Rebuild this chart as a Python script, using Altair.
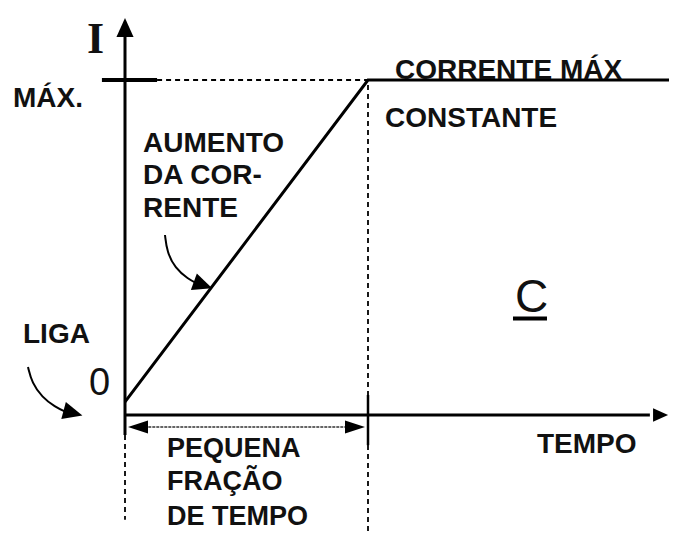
import altair as alt
import pandas as pd

# ---- data (time units: t1 = 10 ; current units: I_max = 10) ----
T1 = 10.0
IMAX = 10.0

# main current curve: starts near 0, ramps to max at t1, then constant
curve_t = [0.0, T1, 22.39]
curve_i = [0.39, IMAX, IMAX]

# axes (solid)
axis_x1 = [0.0, 0.0]
axis_x2 = [0.0, 21.6]
axis_y1 = [-0.6, 0.0]
axis_y2 = [11.45, 0.0]

# dashed guide lines: horizontal at max, vertical at t1, vertical at 0 below axis
dash_x1 = [1.32, T1, 0.0]
dash_x2 = [T1, T1, 0.0]
dash_y1 = [IMAX, 9.85, -0.6]
dash_y2 = [IMAX, -3.49, -3.13]

# short solid marks: max tick and bar at t1
tick_x1 = [-0.95, T1]
tick_x2 = [1.32, T1]
tick_y1 = [IMAX, 0.6]
tick_y2 = [IMAX, -0.9]
tick_w = [4, 2.5]

# double arrow (small fraction of time)
span_t = [0.3, 9.7]
span_i = -0.36

# curved pointer arrows
aum_t = [1.646, 1.728, 2.058, 2.593, 3.004]
aum_i = [5.373, 4.866, 4.388, 4.060, 3.910]
liga_t = [-3.992, -3.827, -3.416, -2.881, -2.428]
liga_i = [1.433, 0.955, 0.537, 0.239, 0.090]

# arrowheads
head_t = [0.0, 22.04, 3.21, -2.14]
head_i = [11.57, 0.0, 3.88, 0.06]
head_ang = [270, 0, 20, 15]
head_sz = [361, 225, 380, 380]

slim_t = [0.535, 9.465]
slim_i = [-0.36, -0.36]
slim_ang = [180, 0]

# labels
lab_text = ["MÁX.", "AUMENTO", "DA COR-", "RENTE", "CORRENTE MÁX", "CONSTANTE",
            "LIGA", "PEQUENA", "FRAÇÃO", "DE TEMPO", "TEMPO"]
lab_t = [-4.609, 0.741, 0.741, 0.741, 11.111, 10.700,
         -4.198, 1.728, 1.728, 1.728, 16.955]
lab_i = [9.194, 7.851, 6.896, 5.910, 10.03, 8.597,
         2.149, -1.254, -2.239, -3.284, -1.134]
lab_size = [28, 28, 28, 28, 28, 28, 28, 27, 27, 27, 28]

# big letters
big_text = ["C"]
big_t = [16.049]
big_i = [3.075]
under_t = [15.967, 17.366]
under_i = 2.881

zero_t = [-1.481]
zero_i = [0.597]
i_t = [-1.564]
i_i = [10.806]

# ---- scales ----
xs = alt.Scale(domain=[-4.815, 22.387], nice=False, zero=False)
ys = alt.Scale(domain=[-3.4925, 12.149], nice=False, zero=False)
BLACK = "#000000"


def X(f="t"):
    return alt.X(f + ":Q", scale=xs, axis=None)


def Y(f="i"):
    return alt.Y(f + ":Q", scale=ys, axis=None)


curve = alt.Chart(pd.DataFrame({"t": curve_t, "i": curve_i})).mark_line(
    color=BLACK, strokeWidth=3).encode(x=X(), y=Y(), order="t:Q")

axes = alt.Chart(pd.DataFrame({"t": axis_x1, "t2": axis_x2, "i": axis_y1, "i2": axis_y2})).mark_rule(
    color=BLACK, strokeWidth=3).encode(x=X(), x2="t2:Q", y=Y(), y2="i2:Q")

dashes = alt.Chart(pd.DataFrame({"t": dash_x1, "t2": dash_x2, "i": dash_y1, "i2": dash_y2})).mark_rule(
    color=BLACK, strokeWidth=1.8, strokeDash=[5, 4]).encode(x=X(), x2="t2:Q", y=Y(), y2="i2:Q")

ticks = alt.Chart(pd.DataFrame({"t": tick_x1, "t2": tick_x2, "i": tick_y1, "i2": tick_y2, "w": tick_w})).mark_rule(
    color=BLACK).encode(x=X(), x2="t2:Q", y=Y(), y2="i2:Q",
                        strokeWidth=alt.StrokeWidth("w:Q", scale=None))

span = alt.Chart(pd.DataFrame({"t": [span_t[0]], "t2": [span_t[1]], "i": [span_i]})).mark_rule(
    color="#333333", strokeWidth=1.6, strokeDash=[3, 1]).encode(x=X(), x2="t2:Q", y=Y())

under = alt.Chart(pd.DataFrame({"t": [under_t[0]], "t2": [under_t[1]], "i": [under_i]})).mark_rule(
    color=BLACK, strokeWidth=4).encode(x=X(), x2="t2:Q", y=Y())

curved_df = pd.DataFrame({
    "t": aum_t + liga_t,
    "i": aum_i + liga_i,
    "k": ["aum"] * len(aum_t) + ["liga"] * len(liga_t),
    "o": list(range(len(aum_t))) + list(range(len(liga_t))),
})
curved = alt.Chart(curved_df).mark_line(color=BLACK, strokeWidth=2, interpolate="basis").encode(
    x=X(), y=Y(), detail="k:N", order="o:Q")

heads = alt.Chart(pd.DataFrame({"t": head_t, "i": head_i, "a": head_ang, "s": head_sz})).mark_point(
    shape="M1,0L-1,-0.9L-1,0.9Z", filled=True, color=BLACK, opacity=1, strokeWidth=0).encode(
    x=X(), y=Y(), angle=alt.Angle("a:Q", scale=None), size=alt.Size("s:Q", scale=None))

slim = alt.Chart(pd.DataFrame({"t": slim_t, "i": slim_i, "a": slim_ang})).mark_point(
    shape="M1,0L-1,-0.65L-1,0.65Z", filled=True, color=BLACK, opacity=1, strokeWidth=0, size=400).encode(
    x=X(), y=Y(), angle=alt.Angle("a:Q", scale=None))

labels = alt.Chart(pd.DataFrame({"t": lab_t, "i": lab_i, "txt": lab_text, "fs": lab_size})).mark_text(
    align="left", baseline="alphabetic", font="Liberation Sans", fontWeight="bold", color="#111111").encode(
    x=X(), y=Y(), text="txt:N", size=alt.Size("fs:Q", scale=None))

big_c = alt.Chart(pd.DataFrame({"t": big_t, "i": big_i, "txt": big_text})).mark_text(
    align="left", baseline="alphabetic", font="Liberation Sans", fontSize=46, color="#111111").encode(
    x=X(), y=Y(), text="txt:N")

zero = alt.Chart(pd.DataFrame({"t": zero_t, "i": zero_i, "txt": ["0"]})).mark_text(
    align="left", baseline="alphabetic", font="Liberation Sans", fontSize=38, color="#111111").encode(
    x=X(), y=Y(), text="txt:N")

i_lab = alt.Chart(pd.DataFrame({"t": i_t, "i": i_i, "txt": ["I"]})).mark_text(
    align="left", baseline="alphabetic", font="Liberation Serif", fontWeight="bold", fontSize=44,
    color="#111111").encode(x=X(), y=Y(), text="txt:N")

chart = alt.layer(
    dashes, span, axes, ticks, curve, under, curved, heads, slim, labels, big_c, zero, i_lab
).properties(
    width=661, height=524, padding=0, autosize=alt.AutoSizeParams(type="none"),
    background="white"
).configure_view(stroke=None)

chart.save("out.html", embed_options={"renderer": "svg", "actions": False})
